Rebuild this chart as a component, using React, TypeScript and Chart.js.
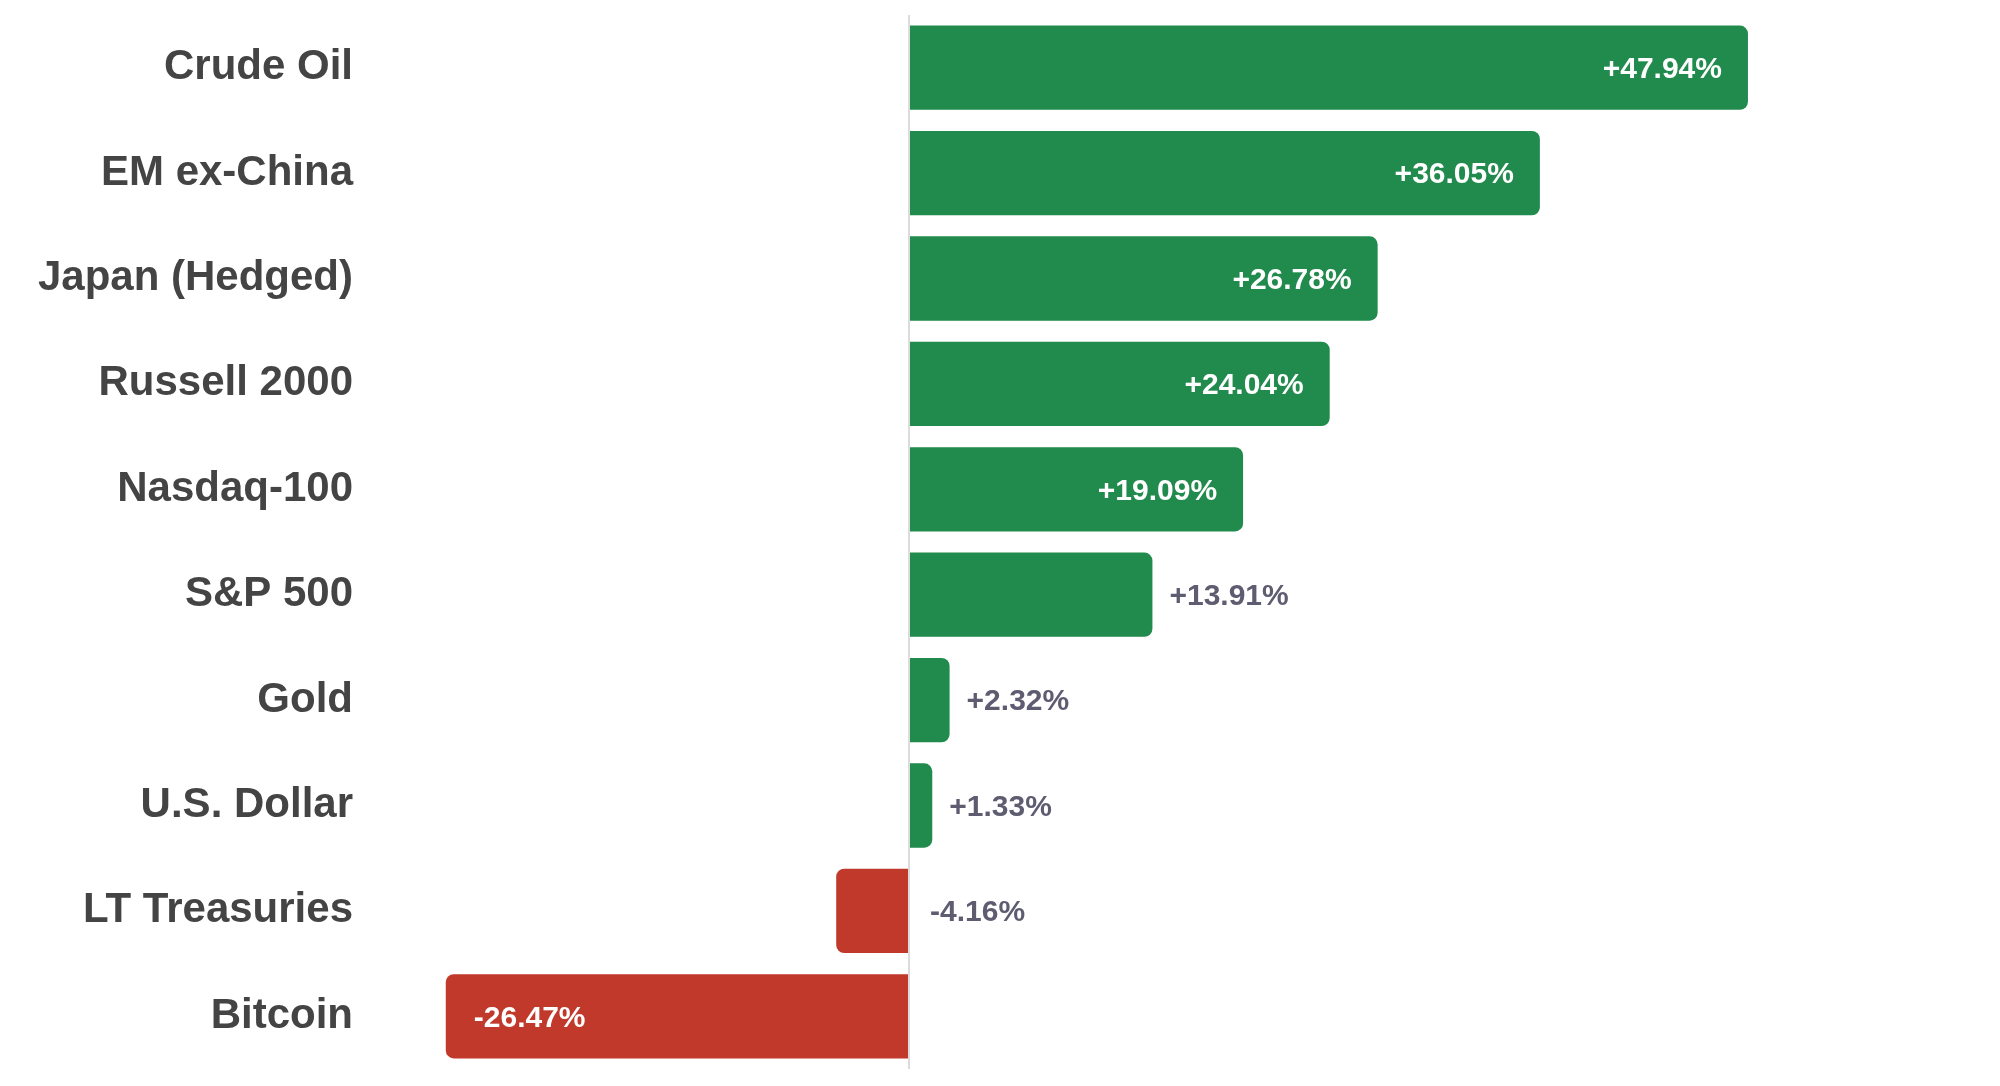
import React, { useEffect, useRef } from "react";
import { Chart, registerables } from "chart.js";

Chart.register(...registerables);

const categories = [
  "Crude Oil",
  "EM ex-China",
  "Japan (Hedged)",
  "Russell 2000",
  "Nasdaq-100",
  "S&P 500",
  "Gold",
  "U.S. Dollar",
  "LT Treasuries",
  "Bitcoin",
];
const returns = [47.94, 36.05, 26.78, 24.04, 19.09, 13.91, 2.32, 1.33, -4.16, -26.47];
const xMin = -30;
const xMax = 62;
const insideThreshold = 15;

const GREEN = "#218A4D";
const RED = "#C0392B";
const LABEL_COLOR = "#444444";
const VALUE_COLOR = "#5E5C70";
const FONT = "'Liberation Sans', Arial, Helvetica, sans-serif";

const fmt = (v: number) => (v > 0 ? "+" : "") + v.toFixed(2) + "%";

const valueLabels = {
  id: "valueLabels",
  afterDatasetsDraw(chart: any) {
    const ctx = chart.ctx;
    const meta = chart.getDatasetMeta(0);
    const data = chart.data.datasets[0].data as number[];
    ctx.save();
    ctx.font = `bold 30px ${FONT}`;
    ctx.textBaseline = "middle";
    meta.data.forEach((bar: any, i: number) => {
      const v = data[i];
      const { x, y, base } = bar.getProps(["x", "y", "base"], true);
      const ty = y + 2;
      const text = fmt(v);
      if (Math.abs(v) >= insideThreshold) {
        ctx.fillStyle = "#ffffff";
        if (v >= 0) {
          ctx.textAlign = "right";
          ctx.fillText(text, x - 26, ty);
        } else {
          ctx.textAlign = "left";
          ctx.fillText(text, x + 28, ty);
        }
      } else {
        ctx.fillStyle = VALUE_COLOR;
        ctx.textAlign = "left";
        const px = Math.max(x, base);
        ctx.fillText(text, px + (v < 0 ? 22 : 17), ty);
      }
    });
    ctx.restore();
  },
};

export default function App() {
  const ref = useRef<HTMLCanvasElement | null>(null);

  useEffect(() => {
    if (!ref.current) return;
    const chart = new Chart(ref.current, {
      type: "bar",
      data: {
        labels: categories,
        datasets: [
          {
            data: returns,
            backgroundColor: returns.map((v) => (v >= 0 ? GREEN : RED)),
            borderRadius: 8,
            borderSkipped: "start",
            categoryPercentage: 0.8,
            barPercentage: 1,
          },
        ],
      },
      plugins: [valueLabels],
      options: {
        indexAxis: "y",
        animation: false,
        responsive: true,
        maintainAspectRatio: false,
        devicePixelRatio: 1,
        layout: { padding: { top: 15, bottom: 17, right: 6, left: 0 } },
        plugins: {
          legend: { display: false },
          tooltip: { enabled: false },
          title: { display: false },
        },
        scales: {
          x: {
            min: xMin,
            max: xMax,
            ticks: { display: false, stepSize: 10 },
            border: { display: false },
            grid: {
              drawTicks: false,
              lineWidth: 2,
              color: (c: any) => (c.tick && c.tick.value === 0 ? "#dcdcdc" : "rgba(0,0,0,0)"),
            },
            afterFit: (scale: any) => {
              scale.height = 0;
              scale.paddingLeft = 0;
              scale.paddingRight = 0;
            },
          },
          y: {
            border: { display: false },
            grid: { display: false, drawTicks: false },
            ticks: {
              padding: 31,
              color: LABEL_COLOR,
              font: { family: FONT, size: 42, weight: "bold" },
            },
            afterFit: (scale: any) => {
              scale.width = 384;
              scale.paddingTop = 0;
              scale.paddingBottom = 0;
            },
          },
        },
      },
    } as any);
    return () => chart.destroy();
  }, []);

  return (
    <div style={{ position: "fixed", left: 0, top: 0, width: 2000, height: 1086, background: "#fff" }}>
      <canvas ref={ref} />
    </div>
  );
}
